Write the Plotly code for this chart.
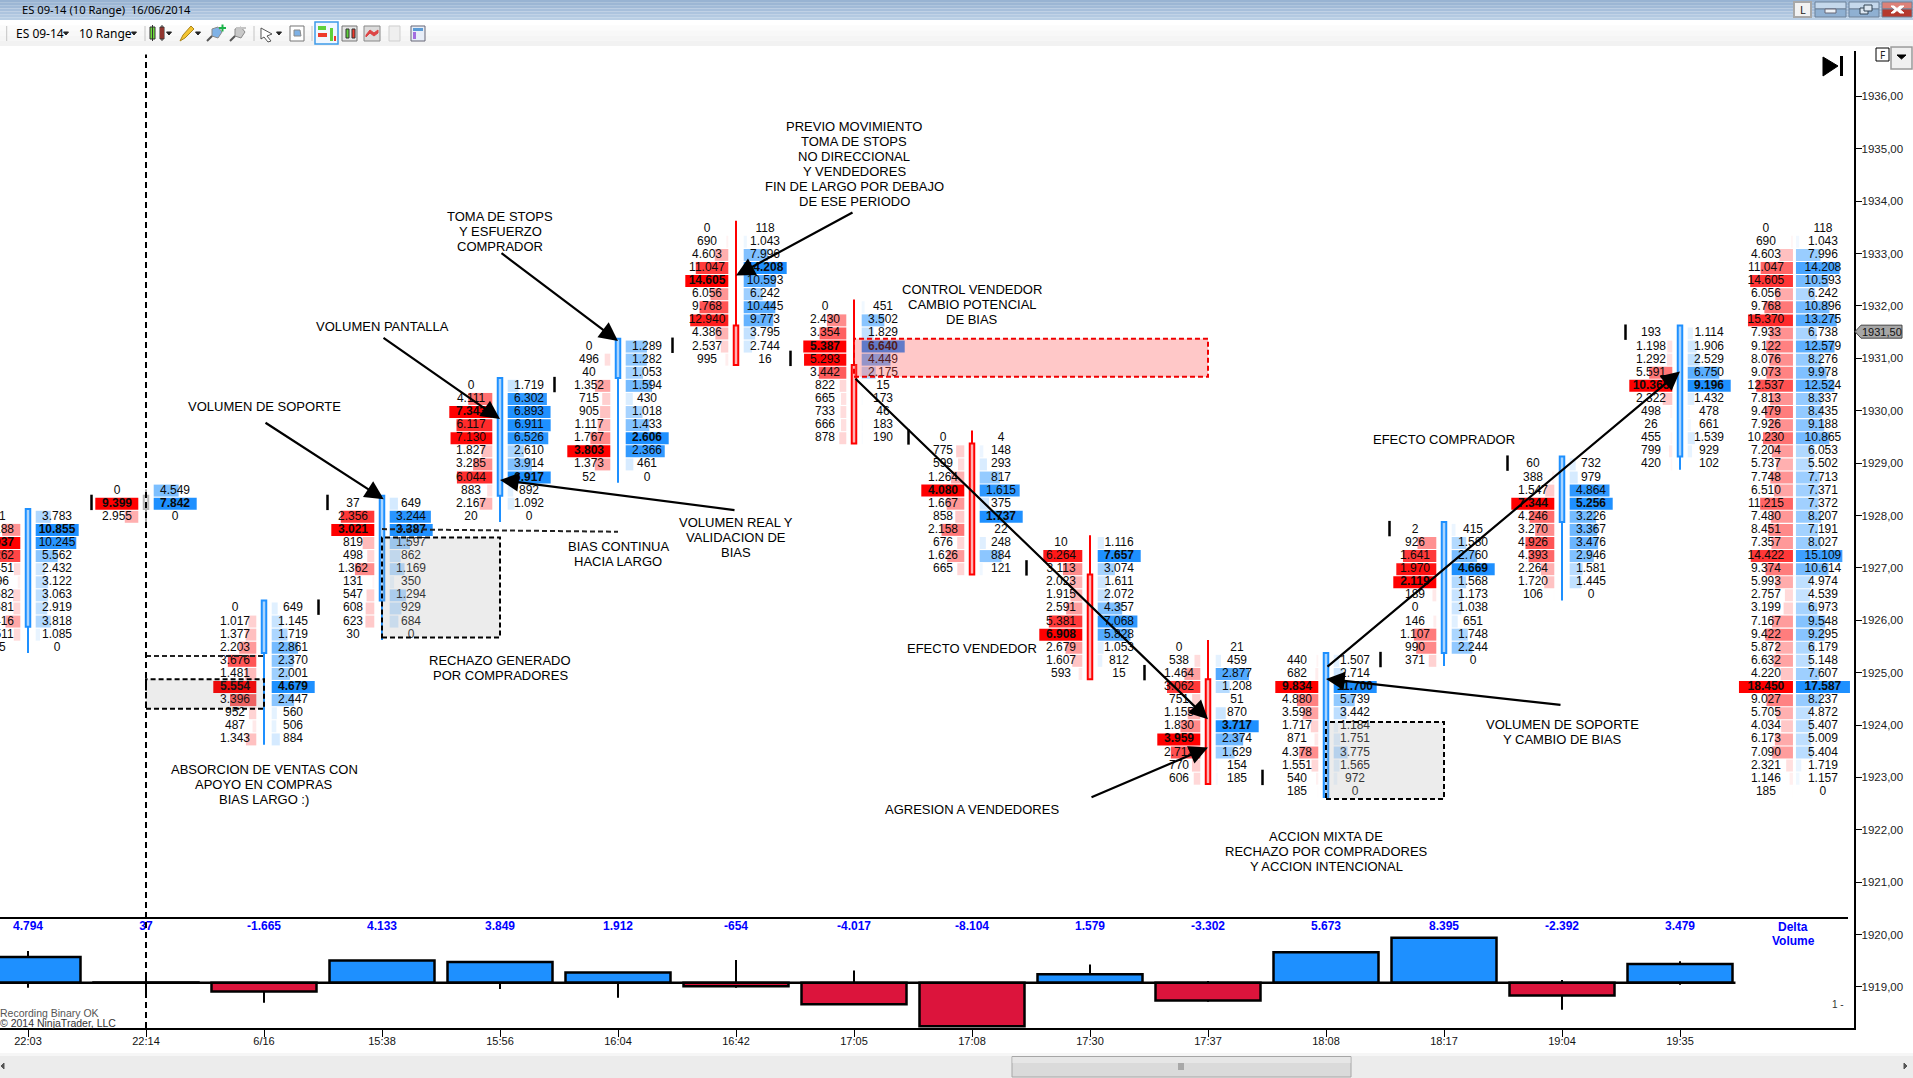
import plotly.graph_objects as go

W, H = 1913, 1078

# ---------------- data ----------------
time_labels = ["22:03","22:14","6/16","15:38","15:56","16:04","16:42","17:05","17:08","17:30","17:37","18:08","18:17","19:04","19:35"]
delta_values = [4794,37,-1665,4133,3849,1912,-654,-4017,-8104,1579,-3302,5673,8395,-2392,3479]
delta_high = [5914,1620,0,4133,3849,1912,4230,2276,0,3414,310,5673,8395,500,3980]
delta_low = [-933,-2300,-3731,0,-1180,-2800,-933,-4017,-8104,0,-3545,0,0,-5037,-373]

col_top_price = [1928.0,1928.5,1926.25,1928.25,1930.5,1931.25,1933.5,1932.0,1929.5,1927.5,1925.5,1925.25,1927.75,1929.0,1931.5]
col_bid = [
 [81,4188,9937,7262,1451,596,1682,1581,3416,1511,25],
 [0,9399,2955],
 [0,1017,1377,2203,3676,1481,5554,3396,952,487,1343],
 [37,2356,3021,819,498,1362,131,547,608,623,30],
 [0,4111,7343,6117,7130,1827,3285,6044,883,2167,20],
 [0,496,40,1352,715,905,1117,1767,3803,1373,52],
 [0,690,4603,11047,14605,6056,9768,12940,4386,2537,995],
 [0,2430,3354,5387,5293,3442,822,665,733,666,878],
 [0,775,599,1264,4080,1667,858,2158,676,1626,665],
 [10,6264,3113,2023,1915,2591,5381,6908,2679,1607,593],
 [0,538,1464,3062,751,1155,1830,3959,2712,770,606],
 [440,682,9834,4880,3598,1717,871,4378,1551,540,185],
 [2,926,1641,1970,2119,189,0,146,1107,990,371],
 [60,388,1547,7344,4246,3270,4926,4393,2264,1720,106],
 [193,1198,1292,5591,10365,2322,498,26,455,799,420],
]
col_ask = [
 [3783,10855,10245,5562,2432,3122,3063,2919,3818,1085,0],
 [4549,7842,0],
 [649,1145,1719,2861,2370,2001,4679,2447,560,506,884],
 [649,3244,3387,1597,862,1169,350,1294,929,684,0],
 [1719,6302,6893,6911,6526,2610,3914,6917,892,1092,0],
 [1289,1282,1053,1594,430,1018,1433,2606,2366,461,0],
 [118,1043,7996,14208,10593,6242,10445,9773,3795,2744,16],
 [451,3502,1829,6640,4449,2175,15,173,46,183,190],
 [4,148,293,817,1615,375,1737,22,248,884,121],
 [1116,7657,3074,1611,2072,4357,7068,5828,1053,812,15],
 [21,459,2877,1208,51,870,3717,2374,1629,154,185],
 [1507,2714,11700,5739,3442,1184,1751,3775,1565,972,0],
 [415,1580,2760,4669,1568,1173,1038,651,1748,2244,0],
 [732,979,4864,5256,3226,3367,3476,2946,1581,1445,0],
 [1114,1906,2529,6750,9196,1432,478,661,1539,929,102],
]
profile_top_price = 1933.5
profile_bid = [0,690,4603,11047,14605,6056,9768,15370,7933,9122,8076,9073,12537,7813,9479,7926,10230,7204,5737,7748,6510,11215,7480,8451,7357,14422,9374,5993,2757,3199,7167,9422,5872,6632,4220,18450,9027,5705,4034,6173,7090,2321,1146,185]
profile_ask = [118,1043,7996,14208,10593,6242,10896,13275,6738,12579,8276,9978,12524,8337,8435,9188,10865,6053,5502,7713,7371,7372,8207,7191,8027,15109,10614,4974,4539,6973,9548,9295,6179,5148,7607,17587,8237,4872,5407,5009,5404,1719,1157,0]

body_top = [1928.125,1928.375,1926.375,1928.375,1930.625,1931.375,1931.625,1930.875,1929.375,1926.875,1924.875,1925.375,1927.875,1929.125,1931.625]
body_bottom = [1925.875,1928.125,1925.375,1926.375,1928.375,1930.625,1930.875,1929.375,1926.875,1924.875,1922.875,1922.625,1925.375,1927.875,1929.125]
candle_high = [1928.125,1928.5,1926.375,1928.375,1930.625,1931.375,1933.625,1932.125,1929.625,1927.625,1925.625,1925.375,1927.875,1929.125,1931.625]
candle_low = [1925.375,1927.875,1923.625,1925.625,1927.875,1928.625,1930.875,1929.375,1926.875,1924.875,1922.875,1922.625,1925.125,1926.375,1928.875]
candle_kind = ["up","flat","up","up","up","up","down","down","down","down","down","up","up","up","up"]
mark_price = [None,1928.25,1926.25,1928.25,1930.5,1931.25,1931.0,1929.5,1927.0,1925.0,1923.0,1925.25,1927.75,1929.0,1931.5]
mark_side = [0,-1,1,-1,1,1,1,1,1,1,1,1,-1,-1,-1]

price_ticks = list(range(1919, 1937))

note_texts = ["TOMA DE STOPS<br>Y ESFUERZO<br>COMPRADOR","VOLUMEN PANTALLA","VOLUMEN DE SOPORTE",
 "ABSORCION DE VENTAS CON<br>APOYO EN COMPRAS<br>BIAS LARGO :)","RECHAZO GENERADO<br>POR COMPRADORES",
 "BIAS CONTINUA<br>HACIA LARGO","VOLUMEN REAL Y<br>VALIDACION DE<br>BIAS","CONTROL VENDEDOR<br>CAMBIO POTENCIAL<br>DE BIAS",
 "PREVIO MOVIMIENTO<br>TOMA DE STOPS<br>NO DIRECCIONAL<br>Y VENDEDORES<br>FIN DE LARGO POR DEBAJO<br>DE ESE PERIODO",
 "EFECTO VENDEDOR","AGRESION A VENDEDORES","ACCION MIXTA DE<br>RECHAZO POR COMPRADORES<br>Y ACCION INTENCIONAL",
 "EFECTO COMPRADOR","VOLUMEN DE SOPORTE<br>Y CAMBIO DE BIAS"]
note_x = [4,3,2,2,4,5,6,8,7,8,8,11,12,13]
note_y = [1933.43,1931.61,1930.08,1922.86,1925.09,1927.26,1927.58,1932.02,1934.72,1925.47,1922.39,1921.58,1929.46,1923.87]

arrow_from_x = [4,3,2,6,7,7,9,11,13]
arrow_from_y = [1933.03,1931.41,1929.79,1928.1,1933.8,1930.64,1922.61,1925.09,1924.38]
arrow_to_x = [5,4,3.015,4,6,10,10,14,11]
arrow_to_y = [1931.33,1929.84,1928.31,1928.68,1932.58,1924.11,1923.57,1930.75,1924.88]

# ---------------- scales ----------------
X0_PX, COL_PX = 28.0, 118.0
PLOT_R = 1853.5
PX_1933, PX_PT = 253.6, 52.38
TOP_PX, PANEL_TOP, BOTTOM_PX = 51, 918, 1028
ZERO_PX, DELTA_PX = 982.7, 5.36 / 1000
ROW_SHIFT = 1.3 / PX_PT      # cells sit a hair below their price tick

def dx(px):
    return px / COL_PX

def px_x(p):
    return p / W

def px_y(p):
    return 1 - p / H

y_range = [1933 - (BOTTOM_PX - PX_1933) / PX_PT, 1933 + (PX_1933 - TOP_PX) / PX_PT]
y2_range = [-(BOTTOM_PX - ZERO_PX) / DELTA_PX, (ZERO_PX - PANEL_TOP) / DELTA_PX]
x_range = [-X0_PX / COL_PX, (PLOT_R - X0_PX) / COL_PX]

def fmt(v):
    return f"{v:,}".replace(",", ".")

# ---------------- cell collection ----------------
columns = [(i, col_top_price[i], col_bid[i], col_ask[i], 43.0, 7.7, 29.0) for i in range(15)]
columns.append((14.97, profile_top_price, profile_bid, profile_ask, 54.0, 1.5, 28.5))

bid_y, bid_len, bid_base, bid_col = [], [], [], []
ask_y, ask_len, ask_base, ask_col = [], [], [], []
tx, ty, tt = [], [], []
for pos, top, bids, asks, maxw, gap, toff in columns:
    mb, ma = max(bids), max(asks)
    for r, (b, a) in enumerate(zip(bids, asks)):
        p = top - 0.25 * r - ROW_SHIFT
        w = dx(maxw) * b / mb
        bid_y.append(p); bid_len.append(w); bid_base.append(pos - dx(gap) - w)
        bid_col.append(f"rgba(255,0,0,{b / mb:.3f})")
        w = dx(maxw) * a / ma
        ask_y.append(p); ask_len.append(w); ask_base.append(pos + dx(gap))
        ask_col.append(f"rgba(30,144,255,{a / ma:.3f})")
        tx.append(pos - dx(toff)); ty.append(p)
        tt.append(f"<b>{fmt(b)}</b>" if b == mb else fmt(b))
        tx.append(pos + dx(toff)); ty.append(p)
        tt.append(f"<b>{fmt(a)}</b>" if a == ma else fmt(a))

fig = go.Figure()
ROW_H = 0.25 * 12 / 13.1
fig.add_trace(go.Bar(orientation="h", y=bid_y, x=bid_len, base=bid_base, width=ROW_H,
                     marker=dict(color=bid_col, line=dict(width=0)), hoverinfo="skip"))
fig.add_trace(go.Bar(orientation="h", y=ask_y, x=ask_len, base=ask_base, width=ROW_H,
                     marker=dict(color=ask_col, line=dict(width=0)), hoverinfo="skip"))

# wicks (outside the body only) and candle bodies
kinds = {"up": ("#1E90FF", "#a9d5ff"), "down": ("#FF0000", "#ffb3b3"), "flat": ("#b4b4b4", "#ececec")}
for k, (lc, fc) in kinds.items():
    wx, wy = [], []
    for i in range(15):
        if candle_kind[i] == k:
            if candle_high[i] > body_top[i]:
                wx += [i, i, None]
                wy += [candle_high[i], body_top[i], None]
            if candle_low[i] < body_bottom[i]:
                wx += [i, i, None]
                wy += [body_bottom[i], candle_low[i], None]
    fig.add_trace(go.Scatter(x=wx, y=wy, mode="lines", line=dict(color=lc, width=2), hoverinfo="skip"))
    idx = [i for i in range(15) if candle_kind[i] == k]
    fig.add_trace(go.Bar(x=idx, base=[body_bottom[i] for i in idx],
                         y=[body_top[i] - body_bottom[i] for i in idx], width=dx(4.5),
                         marker=dict(color=fc, line=dict(color=lc, width=2)), hoverinfo="skip"))

# open/close ticks
mx = [i + s * dx(54.5) for i, s in enumerate(mark_side) if s]
my = [p for p, s in zip(mark_price, mark_side) if s]
fig.add_trace(go.Scatter(x=mx, y=my, mode="markers",
                         marker=dict(symbol="line-ns", size=11, line=dict(color="#000", width=2.5)), hoverinfo="skip"))

fig.add_trace(go.Scatter(x=tx, y=ty, mode="text", text=tt, textposition="middle center",
                         textfont=dict(family="Liberation Sans", size=12, color="#0a0a0a"), hoverinfo="skip"))

# delta panel
xs = list(range(15))
wx, wy = [], []
for i in xs:
    v = delta_values[i]
    if delta_high[i] > max(v, 0):
        wx += [i, i, None]
        wy += [delta_high[i], max(v, 0), None]
    if delta_low[i] < min(v, 0):
        wx += [i, i, None]
        wy += [min(v, 0), delta_low[i], None]
fig.add_trace(go.Scatter(x=wx, y=wy, yaxis="y2", mode="lines", line=dict(color="#000", width=2), hoverinfo="skip"))
fig.add_trace(go.Bar(x=xs, y=delta_values, yaxis="y2", width=dx(105),
                     marker=dict(color=["#1E90FF" if v >= 0 else "#DC143C" for v in delta_values],
                                 line=dict(color="#000", width=2.5)), hoverinfo="skip"))
label_level = (ZERO_PX - 926.7) / DELTA_PX
fig.add_trace(go.Scatter(x=xs, y=[label_level] * 15, yaxis="y2", mode="text",
                         text=[f"<b>{fmt(v)}</b>" for v in delta_values], textposition="middle center",
                         textfont=dict(family="Liberation Sans", size=12, color="#0000ff"), hoverinfo="skip"))

# ---------------- shapes ----------------
shapes = []

def rect(x0, y0, x1, y1, fill=None, line=None, lw=1, layer="above"):
    shapes.append(dict(type="rect", xref="paper", yref="paper", x0=px_x(x0), x1=px_x(x1), y0=px_y(y0), y1=px_y(y1),
                       fillcolor=fill or "rgba(0,0,0,0)", line=dict(color=line or "rgba(0,0,0,0)", width=lw if line else 0),
                       layer=layer))

def poly(points, fill, line=None, lw=1):
    path = "M " + " L ".join(f"{px_x(a):.5f} {px_y(b):.5f}" for a, b in points) + " Z"
    shapes.append(dict(type="path", xref="paper", yref="paper", path=path, fillcolor=fill,
                       line=dict(color=line or fill, width=lw)))

def seg(x0, y0, x1, y1, color, lw=1):
    shapes.append(dict(type="line", xref="paper", yref="paper", x0=px_x(x0), x1=px_x(x1), y0=px_y(y0), y1=px_y(y1),
                       line=dict(color=color, width=lw)))

# annotation boxes, in chart units
BOX_DASH = "5px,3px"
for x0, x1, y0, y1, fc in [(3, 4, 1925.67, 1927.58, "rgba(179,179,179,0.25)"),
                           (1, 2, 1924.31, 1924.875, "rgba(97,97,97,0.12)"),
                           (11, 12, 1922.59, 1924.06, "rgba(179,179,179,0.25)")]:
    shapes.append(dict(type="rect", xref="x", yref="y", x0=x0, x1=x1, y0=y0, y1=y1,
                       fillcolor=fc, line=dict(color="#000", width=2, dash=BOX_DASH), layer="above"))
shapes.append(dict(type="rect", xref="x", yref="y", x0=7, x1=10, y0=1930.65, y1=1931.375,
                   fillcolor="rgba(255,72,72,0.3)", line=dict(color="#f00000", width=2, dash=BOX_DASH), layer="above"))
shapes.append(dict(type="line", xref="x", yref="y", x0=1, x1=2, y0=1925.32, y1=1925.32,
                   line=dict(color="#222", width=2, dash=BOX_DASH)))
shapes.append(dict(type="line", xref="x", yref="y", x0=3, x1=5, y0=1927.74, y1=1927.69,
                   line=dict(color="#222", width=2, dash=BOX_DASH)))
shapes.append(dict(type="line", xref="x", yref="y", x0=1, x1=1, y0=y_range[0], y1=1936.8,
                   line=dict(color="#000", width=2, dash="6px,4px")))
# delta baseline + panel rule
shapes.append(dict(type="line", xref="x", yref="y2", x0=x_range[0], x1=14.47, y0=0, y1=0, line=dict(color="#000", width=2.5)))
seg(0, PANEL_TOP, 1848, PANEL_TOP, "#000", 2)

# title bar gradient
bands = ["#98b3d2", "#9cb6d4", "#a1bad7", "#a7bfdb", "#adc4de", "#b3c9e1", "#b9cee4"]
for i, c in enumerate(bands):
    rect(0, i * 20 / 7, W, (i + 1) * 20 / 7, c)
for i, c in enumerate(["#ffffff", "#fbfbfb", "#f8f8f8", "#f5f5f5", "#f2f2f2"]):
    rect(0, 20 + i * 5.2, W, 20 + (i + 1) * 5.2, c)
# window buttons
rect(1794, 2, 1811, 17, "#f2f2f2", "#a8a8a8", 2)
for x0, x1, top, bot in [(1815, 1846, "#c5d8ec", "#8fb0d2"), (1849, 1879, "#c5d8ec", "#8fb0d2"), (1882, 1912, "#dc8178", "#b5392f")]:
    rect(x0, 2, x1, 9, top, "#6d8199", 1)
    rect(x0, 9, x1, 17, bot, "#6d8199", 1)
rect(1825, 9, 1836, 13, "#eef3f8", "#667", 1)
rect(1860, 8, 1868, 14, "#dbe6f1", "#345", 1)
rect(1864, 5, 1872, 11, "#dbe6f1", "#345", 1)
poly([(1891, 6), (1894, 6), (1897, 8.5), (1900, 6), (1904, 6), (1900, 9.5), (1904, 13), (1900, 13), (1897, 10.5), (1894, 13), (1891, 13), (1895, 9.5)], "#ffffff")
# F box, dropdown, jump-to-end glyph
rect(1876, 48, 1889, 61, "#ffffff", "#000", 1)
rect(1891, 47, 1912, 69, "#f0f0f0", "#999", 1.5)
poly([(1897, 55), (1906, 55), (1901.5, 59)], "#000")
poly([(1823, 57), (1838, 66), (1823, 76)], "#000")
rect(1840, 56, 1843, 76, "#000")
# toolbar separators
for x in [6.7, 145, 254, 312]:
    seg(x, 26, x, 41, "#c4c4c4", 1)
for x in [66, 134, 169, 198, 279]:
    poly([(x - 2.5, 32), (x + 2.5, 32), (x, 35)], "#222")
# toolbar icons
rect(150, 27, 155, 39, "#6fdc3c", "#333", 1)
rect(160, 27, 164, 39, "#ee3a2c", "#333", 1)
seg(152.5, 25, 152.5, 41, "#333", 1)
seg(162, 25, 162, 41, "#333", 1)
poly([(180, 41), (183, 35), (191, 26), (194, 29), (185, 38)], "#f4c430", "#a8841c")
for x, col in [(216, "#7fb2e6"), (239, "#c8c8c8")]:
    poly([(x - 4, 29), (x + 2, 27), (x + 6, 32), (x + 2, 38), (x - 4, 36)], col, "#8a8a8a")
    seg(x - 4, 36, x - 9, 41, "#555", 2)
rect(219, 27, 226, 29, "#1cb34a")
rect(221.5, 24.5, 223.5, 31.5, "#1cb34a")
rect(236, 27, 246, 29, "#c4c4c4")
poly([(261, 28), (272, 34), (267, 36), (271, 41), (268, 42), (264, 37), (261, 39)], "#ffffff", "#555")
rect(290, 26, 304, 41, "#ffffff", "#777", 1)
poly([(294, 30), (300, 30), (301, 36), (294, 36)], "#7fb2e6", "#8a8a8a")
rect(315, 22, 338, 44, "#f0f7ff", "#3d9be9", 1.5)
rect(318, 26, 326, 30, "#5fd03a")
rect(318, 33, 327, 37, "#ee3a2c")
rect(330, 28, 333, 41, "#5fd03a")
rect(334, 36, 336, 41, "#ee3a2c")
rect(342, 26, 357, 41, "#e4e4e4", "#777", 1)
rect(346, 29, 349, 38, "#5fd03a", "#333", 1)
rect(352, 29, 355, 38, "#ee3a2c", "#333", 1)
rect(364, 26, 380, 41, "#dcdcdc", "#888", 1)
poly([(366, 35), (370, 30), (374, 33), (378, 30), (378, 33), (374, 36), (370, 33), (366, 37)], "#d44", "#d44")
rect(389, 26, 400, 41, "#efefef", "#cfcfcf", 1)
rect(411, 26, 425, 41, "#e8eef8", "#667", 1)
rect(413, 28, 423, 31, "#5b9bd5")
rect(413, 32, 416, 39, "#a36ee0")
# price tag
tag_y = PX_1933 + (1933 - 1931.5) * PX_PT - 0.5
poly([(1855, tag_y), (1861, tag_y - 6.5), (1902, tag_y - 6.5), (1902, tag_y + 6.5), (1861, tag_y + 6.5)], "#a6a6a6", "#444", 1)
# bottom strip and scrollbar
rect(0, 1053, W, 1056, "#f6f6f6")
rect(0, 1056, W, 1078, "#ececec")
rect(1012, 1056.5, 1351, 1077, "#dadada", "#a6a6a6", 1)
rect(1012.5, 1057, 1350.5, 1063, "#e6e6e6")
for x in [1179, 1181, 1183]:
    seg(x, 1063, x, 1070, "#777", 1)
poly([(4, 1063), (1, 1066), (4, 1069)], "#555")
poly([(1904, 1063), (1907, 1066), (1904, 1069)], "#555")

# ---------------- annotations ----------------
ann = []
LINE_PT = 15.0 / PX_PT
for t, x, y in zip(note_texts, note_x, note_y):
    lines = t.split("<br>")
    for n, line in enumerate(lines):
        ann.append(dict(x=x, y=y - (n - (len(lines) - 1) / 2) * LINE_PT, xref="x", yref="y", text=line, showarrow=False,
                        xanchor="center", yanchor="middle", align="center",
                        font=dict(family="Liberation Sans", size=13, color="#000")))
for x0, y0, x1, y1 in zip(arrow_from_x, arrow_from_y, arrow_to_x, arrow_to_y):
    ann.append(dict(x=x1, y=y1, ax=x0, ay=y0, xref="x", yref="y", axref="x", ayref="y", text="", showarrow=True,
                    arrowhead=2, arrowsize=1.7, arrowwidth=2.2, arrowcolor="#000", standoff=0))

def label(x, y, text, size=11, color="#000", family="Liberation Sans", anchor="left"):
    ann.append(dict(x=px_x(x), y=px_y(y), xref="paper", yref="paper", text=text, showarrow=False, xanchor=anchor,
                    yanchor="middle", align=anchor, font=dict(family=family, size=size, color=color)))

label(20, 9.5, "ES 09-14 (10 Range)  16/06/2014", 11.2, "#000", "Noto Sans")
label(14, 33, "ES 09-14", 12, "#000", "Noto Sans")
label(77, 33, "10 Range", 12, "#000", "Noto Sans")
label(1802.5, 9.5, "L", 11, "#222", "Noto Sans", "center")
label(1882.5, 54.5, "F", 10, "#222", "Noto Sans", "center")
label(1793, 927, "<b>Delta</b>", 12, "#0000ff", "Liberation Sans", "center")
label(1793, 941, "<b>Volume</b>", 12, "#0000ff", "Liberation Sans", "center")
label(-2, 1013, "Recording Binary OK", 10.5, "#555")
label(-2, 1022.5, "© 2014 NinjaTrader, LLC", 10.5, "#333")
label(1838, 1004, "1 -", 10, "#333", "Liberation Sans", "center")
label(1882, tag_y, "1931,50", 11, "#111", "Liberation Sans", "center")

fig.update_layout(
    width=W, height=H, margin=dict(l=0, r=0, t=0, b=0), autosize=False,
    paper_bgcolor="#ffffff", plot_bgcolor="#ffffff", showlegend=False, barmode="overlay",
    shapes=shapes, annotations=ann,
    xaxis=dict(domain=[0, PLOT_R / W], range=x_range, tickmode="array", tickvals=xs, ticktext=time_labels,
               showgrid=False, zeroline=False, showline=True, linecolor="#000", linewidth=1.5,
               ticks="outside", ticklen=7, tickcolor="#000", tickwidth=1, ticklabelstandoff=-5,
               tickfont=dict(family="Liberation Sans", size=11, color="#111"), anchor="y"),
    yaxis=dict(domain=[1 - BOTTOM_PX / H, 1 - TOP_PX / H], range=y_range, side="right", tickmode="array",
               tickvals=price_ticks, ticktext=[f"{p},00" for p in price_ticks], showgrid=False, zeroline=False,
               showline=True, linecolor="#000", linewidth=1.5, ticks="outside", ticklen=7, tickcolor="#000",
               ticklabelstandoff=-3, tickfont=dict(family="Liberation Sans", size=11.5, color="#222")),
    yaxis2=dict(domain=[1 - BOTTOM_PX / H, 1 - PANEL_TOP / H], range=y2_range, visible=False, anchor="x"),
)
fig.write_html("out.html", config={"displayModeBar": False},
               post_script="document.body.style.margin='0';document.documentElement.style.overflow='hidden';")
